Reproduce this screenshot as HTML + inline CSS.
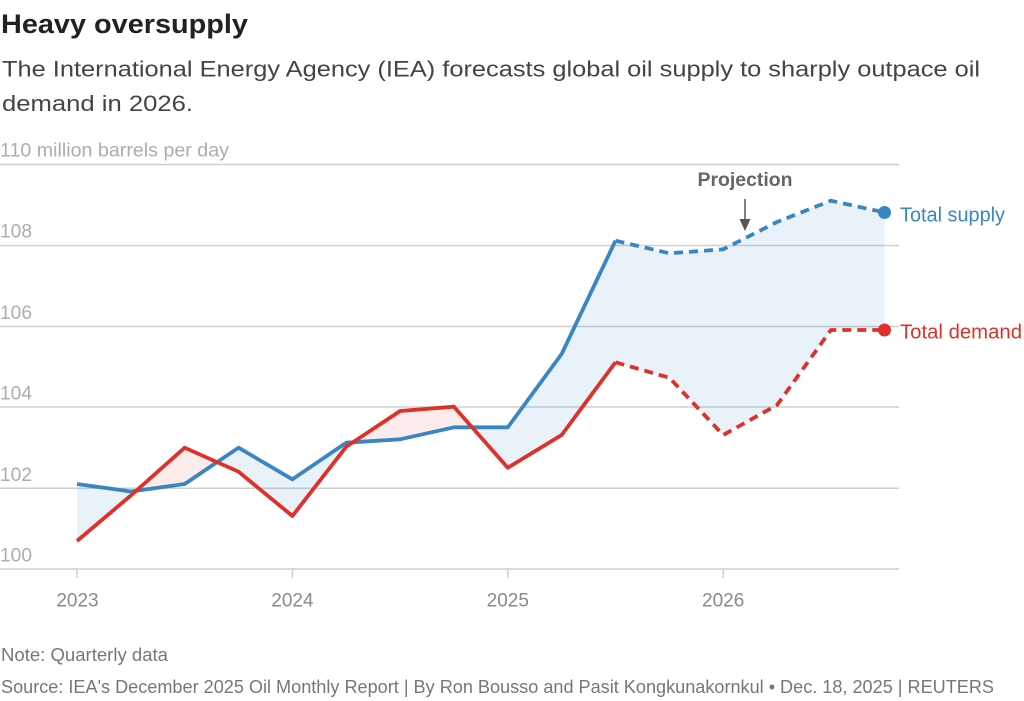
<!DOCTYPE html>
<html><head><meta charset="utf-8"><style>
html,body{margin:0;padding:0;background:#fff;}
svg{display:block;}
text{font-family:"Liberation Sans",sans-serif;}
</style></head><body>
<svg width="1024" height="701" viewBox="0 0 1024 701" xmlns="http://www.w3.org/2000/svg">
<defs>
<clipPath id="aboveDemand"><polygon points="77,541 130.85,495.5 184.7,447.7 238.55,471.7 292.4,516 346.25,446.7 400.1,411 453.95,406.7 507.8,467.7 561.65,435 615.5,362.3 669.35,377.7 723.2,435 777.05,405 830.9,330 884.75,330 884.75,0 77,0"/></clipPath>
<clipPath id="aboveSupply"><polygon points="77,484 130.85,491.5 184.7,484 238.55,447.7 292.4,479.3 346.25,442.7 400.1,439.3 453.95,427.3 507.8,427.3 561.65,354 615.5,240.7 669.35,253.3 723.2,249.3 777.05,222 830.9,200.7 884.75,212.5 884.75,0 77,0"/></clipPath>
</defs>
<text x="1" y="33" font-size="26.5" font-weight="bold" fill="#222" textLength="247" lengthAdjust="spacingAndGlyphs">Heavy oversupply</text>
<text x="2" y="76.5" font-size="22.5" fill="#444" textLength="978" lengthAdjust="spacingAndGlyphs">The International Energy Agency (IEA) forecasts global oil supply to sharply outpace oil</text>
<text x="2" y="111" font-size="22.5" fill="#444" textLength="191" lengthAdjust="spacingAndGlyphs">demand in 2026.</text>

<g stroke="#cfcfcf" stroke-width="1.5">
<line x1="0" y1="164.5" x2="899" y2="164.5"/>
<line x1="0" y1="245.5" x2="899" y2="245.5"/>
<line x1="0" y1="326.5" x2="899" y2="326.5"/>
<line x1="0" y1="407" x2="899" y2="407"/>
<line x1="0" y1="488.3" x2="899" y2="488.3"/>
<line x1="0" y1="569" x2="899" y2="569"/>
<line x1="77" y1="569" x2="77" y2="578"/>
<line x1="292.4" y1="569" x2="292.4" y2="578"/>
<line x1="507.8" y1="569" x2="507.8" y2="578"/>
<line x1="723.2" y1="569" x2="723.2" y2="578"/>
</g>
<g font-size="19" fill="#adadad">
<text x="0" y="156.5" textLength="229" lengthAdjust="spacingAndGlyphs">110 million barrels per day</text>
<text x="0" y="237.5" textLength="32" lengthAdjust="spacingAndGlyphs">108</text>
<text x="0" y="319" textLength="32" lengthAdjust="spacingAndGlyphs">106</text>
<text x="0" y="399.5" textLength="32" lengthAdjust="spacingAndGlyphs">104</text>
<text x="0" y="481" textLength="32" lengthAdjust="spacingAndGlyphs">102</text>
<text x="0" y="561.5" textLength="32" lengthAdjust="spacingAndGlyphs">100</text>
</g>
<g font-size="19" fill="#8a8a8a" text-anchor="middle">
<text x="77.5" y="606.5">2023</text>
<text x="292.4" y="606.5">2024</text>
<text x="507.8" y="606.5">2025</text>
<text x="723.2" y="606.5">2026</text>
</g>

<polygon clip-path="url(#aboveDemand)" fill="rgba(58,134,195,0.11)" points="77,484 130.85,491.5 184.7,484 238.55,447.7 292.4,479.3 346.25,442.7 400.1,439.3 453.95,427.3 507.8,427.3 561.65,354 615.5,240.7 669.35,253.3 723.2,249.3 777.05,222 830.9,200.7 884.75,212.5 884.75,700 77,700"/>
<polygon clip-path="url(#aboveSupply)" fill="rgba(224,48,42,0.09)" points="77,541 130.85,495.5 184.7,447.7 238.55,471.7 292.4,516 346.25,446.7 400.1,411 453.95,406.7 507.8,467.7 561.65,435 615.5,362.3 669.35,377.7 723.2,435 777.05,405 830.9,330 884.75,330 884.75,700 77,700"/>

<g fill="none" stroke-width="3.8" stroke-linejoin="round">
<polyline stroke="#3a86c3" points="77,484 130.85,491.5 184.7,484 238.55,447.7 292.4,479.3 346.25,442.7 400.1,439.3 453.95,427.3 507.8,427.3 561.65,354 615.5,240.7"/>
<polyline stroke="#3a86c3" stroke-dasharray="9 6" points="615.5,240.7 669.35,253.3 723.2,249.3 777.05,222 830.9,200.7 884.75,212.5"/>
<polyline stroke="#e0302a" points="77,541 130.85,495.5 184.7,447.7 238.55,471.7 292.4,516 346.25,446.7 400.1,411 453.95,406.7 507.8,467.7 561.65,435 615.5,362.3"/>
<polyline stroke="#e0302a" stroke-dasharray="9 6" points="615.5,362.3 669.35,377.7 723.2,435 777.05,405 830.9,330 884.75,330"/>
</g>
<circle cx="884.5" cy="212.5" r="6.5" fill="#3a86c3"/>
<circle cx="884.5" cy="330" r="6.5" fill="#e0302a"/>

<text x="900" y="221.5" font-size="20" fill="#3a86c3" textLength="105" lengthAdjust="spacingAndGlyphs">Total supply</text>
<text x="900" y="338.5" font-size="20" fill="#e0302a" textLength="122" lengthAdjust="spacingAndGlyphs">Total demand</text>

<text x="745" y="186" font-size="19" font-weight="bold" fill="#666" text-anchor="middle" textLength="95" lengthAdjust="spacingAndGlyphs">Projection</text>
<line x1="745" y1="199" x2="745" y2="222" stroke="#555" stroke-width="1.5"/>
<polygon points="739.5,219 750.5,219 745,231" fill="#555"/>

<text x="1" y="661" font-size="18" fill="#777" textLength="167" lengthAdjust="spacingAndGlyphs">Note: Quarterly data</text>
<text x="1" y="693" font-size="18" fill="#777" textLength="993" lengthAdjust="spacingAndGlyphs">Source: IEA's December 2025 Oil Monthly Report | By Ron Bousso and Pasit Kongkunakornkul • Dec. 18, 2025 | REUTERS</text>
</svg>
</body></html>
